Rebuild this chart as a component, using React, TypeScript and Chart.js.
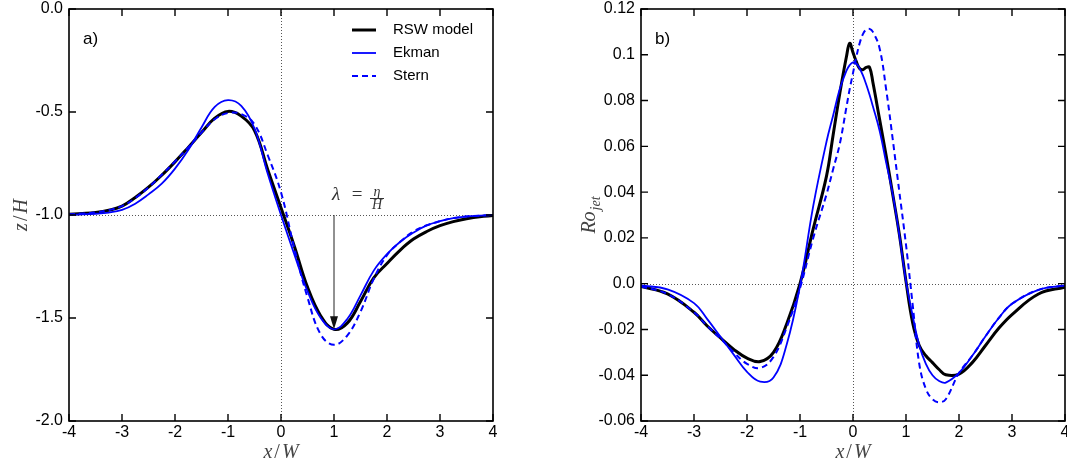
import React, { useEffect, useRef } from 'react';
import { Chart, registerables } from 'chart.js';
Chart.register(...registerables);

// ---------- data ----------
const xA = [-4, -3.75, -3.5, -3.25, -3, -2.75, -2.5, -2.25, -2, -1.75, -1.5, -1.25, -1, -0.75, -0.5, -0.25, 0, 0.25, 0.5, 0.75, 1, 1.25, 1.5, 1.75, 2, 2.25, 2.5, 2.75, 3, 3.25, 3.5, 3.75, 4];
const rswA = [-0.996, -0.993, -0.988, -0.977, -0.957, -0.915, -0.865, -0.807, -0.742, -0.672, -0.600, -0.530, -0.497, -0.520, -0.590, -0.780, -0.965, -1.150, -1.350, -1.490, -1.555, -1.525, -1.420, -1.305, -1.235, -1.170, -1.117, -1.080, -1.052, -1.032, -1.018, -1.008, -1.003];
const ekmanA = [-0.998, -0.997, -0.994, -0.988, -0.975, -0.945, -0.900, -0.848, -0.775, -0.685, -0.575, -0.475, -0.442, -0.470, -0.580, -0.800, -1.000, -1.190, -1.370, -1.500, -1.555, -1.505, -1.390, -1.270, -1.190, -1.130, -1.085, -1.050, -1.030, -1.015, -1.007, -1.003, -1.000];
const sternA = [-0.996, -0.993, -0.988, -0.976, -0.957, -0.918, -0.866, -0.805, -0.740, -0.672, -0.600, -0.535, -0.505, -0.510, -0.560, -0.710, -0.890, -1.160, -1.400, -1.580, -1.630, -1.585, -1.470, -1.310, -1.195, -1.130, -1.080, -1.050, -1.030, -1.015, -1.007, -1.003, -1.000];

const xB = [-4, -3.5, -3, -2.75, -2.5, -2.25, -2, -1.75, -1.5, -1.25, -1, -0.75, -0.5, -0.375, -0.25, -0.125, -0.0625, 0, 0.0625, 0.125, 0.1875, 0.25, 0.3125, 0.375, 0.5, 0.625, 0.75, 0.875, 1, 1.125, 1.25, 1.375, 1.5, 1.625, 1.75, 2, 2.25, 2.5, 2.75, 3, 3.5, 4];
const rswB = [-0.0012, -0.0045, -0.0125, -0.0185, -0.0237, -0.0287, -0.0325, -0.0340, -0.0300, -0.0175, 0.0000, 0.0240, 0.0470, 0.0650, 0.0830, 0.0990, 0.1050, 0.1010, 0.0970, 0.0940, 0.0935, 0.0945, 0.0945, 0.0880, 0.0720, 0.0560, 0.0390, 0.0215, 0.0010, -0.0170, -0.0270, -0.0315, -0.0345, -0.0375, -0.0398, -0.0395, -0.0345, -0.0270, -0.0195, -0.0135, -0.0045, -0.0015];
const ekmanB = [-0.0008, -0.0025, -0.0085, -0.0155, -0.0232, -0.0310, -0.0385, -0.0428, -0.0410, -0.0265, -0.0010, 0.0340, 0.0620, 0.0735, 0.0850, 0.0930, 0.0955, 0.0967, 0.0962, 0.0940, 0.0910, 0.0870, 0.0825, 0.0775, 0.0670, 0.0530, 0.0390, 0.0210, 0.0010, -0.0140, -0.0270, -0.0350, -0.0400, -0.0425, -0.0432, -0.0390, -0.0315, -0.0230, -0.0150, -0.0088, -0.0027, -0.0008];
const sternB = [-0.0012, -0.0045, -0.0125, -0.0185, -0.0240, -0.0300, -0.0350, -0.0368, -0.0320, -0.0190, -0.0020, 0.0200, 0.0390, 0.0500, 0.0610, 0.0770, 0.0850, 0.0920, 0.0990, 0.1050, 0.1090, 0.1110, 0.1113, 0.1100, 0.1030, 0.0850, 0.0630, 0.0400, 0.0170, -0.0090, -0.0350, -0.0460, -0.0505, -0.0518, -0.0505, -0.0390, -0.0315, -0.0230, -0.0150, -0.0088, -0.0027, -0.0008];

const xTicks = [-4, -3, -2, -1, 0, 1, 2, 3, 4];
const xTickLabels = ['-4', '-3', '-2', '-1', '0', '1', '2', '3', '4'];
const yTicksA = [-2, -1.5, -1, -0.5, 0];
const yLabelsA = ['-2.0', '-1.5', '-1.0', '-0.5', '0.0'];
const yTicksB = [-0.06, -0.04, -0.02, 0, 0.02, 0.04, 0.06, 0.08, 0.1, 0.12];
const yLabelsB = ['-0.06', '-0.04', '-0.02', '0.0', '0.02', '0.04', '0.06', '0.08', '0.1', '0.12'];
const seriesNames = ['RSW model', 'Ekman', 'Stern'];

// ---------- styles ----------
const COLORS = ['#000000', '#0000ff', '#0000ff'];
const WIDTHS = [3, 1.8, 2];
const DASHES: number[][] = [[], [], [6, 4]];
const SANS = '"Liberation Sans", Arial, Helvetica, sans-serif';
const SERIF = '"Liberation Serif", "Times New Roman", serif';

type Run = { t: string; it?: boolean; size: number; dy?: number; gap?: number };

function drawRuns(ctx: CanvasRenderingContext2D, runs: Run[], cx: number, cy: number) {
  ctx.textBaseline = 'alphabetic';
  ctx.textAlign = 'left';
  let total = 0;
  const widths = runs.map((r) => {
    ctx.font = `${r.it ? 'italic ' : ''}${r.size}px ${SERIF}`;
    const w = ctx.measureText(r.t).width + (r.gap || 0);
    total += w;
    return w;
  });
  let x = cx - total / 2;
  runs.forEach((r, i) => {
    ctx.font = `${r.it ? 'italic ' : ''}${r.size}px ${SERIF}`;
    ctx.fillText(r.t, x, cy + (r.dy || 0));
    x += widths[i];
  });
}

type Panel = {
  xs: number[];
  series: number[][];
  yMin: number;
  yMax: number;
  yTicks: number[];
  yLabels: string[];
  hLine: number;
  tag: string;
  legend: boolean;
  arrow: boolean;
  yTitle: Run[];
  yTitleOffset: number;
  yAxisWidth: number;
  padRight: number;
};

const panelA: Panel = {
  xs: xA,
  series: [rswA, ekmanA, sternA],
  yMin: -2,
  yMax: 0,
  yTicks: yTicksA,
  yLabels: yLabelsA,
  hLine: -1,
  tag: 'a)',
  legend: true,
  arrow: true,
  yTitle: [
    { t: 'z', it: true, size: 20, gap: 2 },
    { t: '/', size: 20, gap: 2 },
    { t: 'H', it: true, size: 20 },
  ],
  yTitleOffset: 42,
  yAxisWidth: 69,
  padRight: 40,
};

const panelB: Panel = {
  xs: xB,
  series: [rswB, ekmanB, sternB],
  yMin: -0.06,
  yMax: 0.12,
  yTicks: yTicksB,
  yLabels: yLabelsB,
  hLine: 0,
  tag: 'b)',
  legend: false,
  arrow: false,
  yTitle: [
    { t: 'Ro', it: true, size: 20, gap: 1 },
    { t: 'jet', it: true, size: 14, dy: 5 },
  ],
  yTitleOffset: 46,
  yAxisWidth: 108,
  padRight: 2,
};

const decorPlugin = {
  id: 'decor',
  beforeDatasetsDraw(chart: any, _a: any, opts: any) {
    const p: Panel = opts.panel;
    const { ctx, chartArea } = chart;
    const { left, right, top, bottom } = chartArea;
    const xs = chart.scales.x;
    const ys = chart.scales.y;
    ctx.save();
    ctx.strokeStyle = '#555';
    ctx.lineWidth = 1;
    ctx.setLineDash([1, 2]);
    const px0 = Math.round(xs.getPixelForValue(0)) + 0.5;
    ctx.beginPath();
    ctx.moveTo(px0, top);
    ctx.lineTo(px0, bottom);
    ctx.stroke();
    const py = Math.round(ys.getPixelForValue(p.hLine)) + 0.5;
    ctx.beginPath();
    ctx.moveTo(left, py);
    ctx.lineTo(right, py);
    ctx.stroke();
    ctx.restore();
  },
  afterDatasetsDraw(chart: any, _a: any, opts: any) {
    const p: Panel = opts.panel;
    const { ctx, chartArea } = chart;
    const { left, right, top, bottom } = chartArea;
    const xs = chart.scales.x;
    const ys = chart.scales.y;
    ctx.save();
    // frame
    ctx.strokeStyle = '#000';
    ctx.lineWidth = 1.6;
    ctx.setLineDash([]);
    ctx.strokeRect(left, top, right - left, bottom - top);
    // inward ticks on all sides
    const TL = 7;
    ctx.lineWidth = 1.4;
    xTicks.forEach((v) => {
      const px = xs.getPixelForValue(v);
      ctx.beginPath();
      ctx.moveTo(px, bottom);
      ctx.lineTo(px, bottom - TL);
      ctx.moveTo(px, top);
      ctx.lineTo(px, top + TL);
      ctx.stroke();
    });
    p.yTicks.forEach((v) => {
      const py = ys.getPixelForValue(v);
      ctx.beginPath();
      ctx.moveTo(left, py);
      ctx.lineTo(left + TL, py);
      ctx.moveTo(right, py);
      ctx.lineTo(right - TL, py);
      ctx.stroke();
    });
    // panel tag
    ctx.fillStyle = '#000';
    ctx.font = `17px ${SANS}`;
    ctx.textAlign = 'left';
    ctx.textBaseline = 'alphabetic';
    ctx.fillText(p.tag, left + 14, top + 35);
    // legend
    if (p.legend) {
      chart.data.datasets.forEach((ds: any, i: number) => {
        const ly = top + 21 + i * 23;
        ctx.strokeStyle = ds.borderColor;
        ctx.lineWidth = ds.borderWidth;
        ctx.setLineDash(ds.borderDash || []);
        ctx.beginPath();
        ctx.moveTo(right - 141, ly);
        ctx.lineTo(right - 117, ly);
        ctx.stroke();
        ctx.setLineDash([]);
        ctx.fillStyle = '#000';
        ctx.font = `15px ${SANS}`;
        ctx.textBaseline = 'middle';
        ctx.fillText(ds.label, right - 100, ly);
      });
    }
    // arrow annotation
    if (p.arrow) {
      const rsw = p.series[0];
      const iMin = rsw.indexOf(Math.min(...rsw));
      const ax = xs.getPixelForValue(p.xs[iMin]);
      const y1 = ys.getPixelForValue(p.hLine);
      const y2 = ys.getPixelForValue(rsw[iMin]);
      ctx.strokeStyle = '#222';
      ctx.fillStyle = '#111';
      ctx.lineWidth = 1;
      ctx.beginPath();
      ctx.moveTo(ax, y1);
      ctx.lineTo(ax, y2 - 10);
      ctx.stroke();
      ctx.beginPath();
      ctx.moveTo(ax, y2);
      ctx.lineTo(ax - 4, y2 - 13);
      ctx.lineTo(ax + 4, y2 - 13);
      ctx.closePath();
      ctx.fill();
      ctx.fillStyle = '#333';
      ctx.textBaseline = 'alphabetic';
      ctx.textAlign = 'left';
      ctx.font = `italic 19px ${SERIF}`;
      ctx.fillText('λ', ax - 2, y1 - 15);
      ctx.font = `19px ${SERIF}`;
      ctx.textAlign = 'center';
      ctx.fillText('=', ax + 23, y1 - 15);
      ctx.font = `italic 14px ${SERIF}`;
      ctx.fillText('η', ax + 43, y1 - 19);
      ctx.fillText('H', ax + 43, y1 - 6);
      ctx.fillRect(ax + 36, y1 - 17, 14, 1);
    }
    // axis titles
    ctx.fillStyle = '#444';
    drawRuns(
      ctx,
      [
        { t: 'x', it: true, size: 20, gap: 2 },
        { t: '/', size: 20, gap: 2 },
        { t: 'W', it: true, size: 20 },
      ],
      (left + right) / 2,
      458
    );
    ctx.save();
    ctx.translate(left - p.yTitleOffset, (top + bottom) / 2);
    ctx.rotate(-Math.PI / 2);
    drawRuns(ctx, p.yTitle, 0, 0);
    ctx.restore();
    ctx.restore();
  },
};

function makeConfig(p: Panel): any {
  const closest = (arr: number[], v: number) => {
    let best = 0;
    arr.forEach((a, i) => {
      if (Math.abs(a - v) < Math.abs(arr[best] - v)) best = i;
    });
    return best;
  };
  return {
    type: 'line',
    data: {
      datasets: p.series.map((s, i) => ({
        label: seriesNames[i],
        data: s.map((y, j) => ({ x: p.xs[j], y })),
        borderColor: COLORS[i],
        backgroundColor: COLORS[i],
        borderWidth: WIDTHS[i],
        borderDash: DASHES[i],
        pointRadius: 0,
        fill: false,
        tension: 0.4,
        order: 3 - i,
      })),
    },
    options: {
      animation: false,
      responsive: false,
      devicePixelRatio: 1,
      events: [],
      layout: { padding: { left: 0, right: p.padRight, top: 9, bottom: 0 } },
      plugins: {
        legend: { display: false },
        tooltip: { enabled: false },
        decor: { panel: p },
      },
      scales: {
        x: {
          type: 'linear',
          min: -4,
          max: 4,
          grid: { display: false, drawTicks: false },
          border: { display: false },
          afterBuildTicks: (scale: any) => {
            scale.ticks = xTicks.map((v) => ({ value: v }));
          },
          afterFit: (scale: any) => {
            scale.height = 47;
            scale.paddingLeft = 0;
            scale.paddingRight = 0;
          },
          ticks: {
            padding: 2,
            maxRotation: 0,
            autoSkip: false,
            color: '#000',
            font: { family: SANS, size: 16 },
            callback: (v: number) => xTickLabels[closest(xTicks, v)],
          },
        },
        y: {
          type: 'linear',
          min: p.yMin,
          max: p.yMax,
          grid: { display: false, drawTicks: false },
          border: { display: false },
          afterBuildTicks: (scale: any) => {
            scale.ticks = p.yTicks.map((v) => ({ value: v }));
          },
          afterFit: (scale: any) => {
            scale.width = p.yAxisWidth;
            scale.paddingTop = 0;
            scale.paddingBottom = 0;
          },
          ticks: {
            padding: 6,
            autoSkip: false,
            color: '#000',
            font: { family: SANS, size: 16 },
            callback: (v: number) => p.yLabels[closest(p.yTicks, v)],
          },
        },
      },
    },
    plugins: [decorPlugin],
  };
}

function PanelChart({ panel, left, width }: { panel: Panel; left: number; width: number }) {
  const ref = useRef<HTMLCanvasElement | null>(null);
  useEffect(() => {
    if (!ref.current) return;
    const chart = new Chart(ref.current, makeConfig(panel));
    return () => chart.destroy();
  }, [panel]);
  return (
    <canvas
      ref={ref}
      width={width}
      height={468}
      style={{ position: 'absolute', left, top: 0, width, height: 468 }}
    />
  );
}

export default function App() {
  return (
    <div
      style={{
        position: 'fixed',
        left: 0,
        top: 0,
        width: 1067,
        height: 468,
        background: '#ffffff',
        overflow: 'hidden',
      }}
    >
      <PanelChart panel={panelA} left={0} width={533} />
      <PanelChart panel={panelB} left={533} width={534} />
    </div>
  );
}
